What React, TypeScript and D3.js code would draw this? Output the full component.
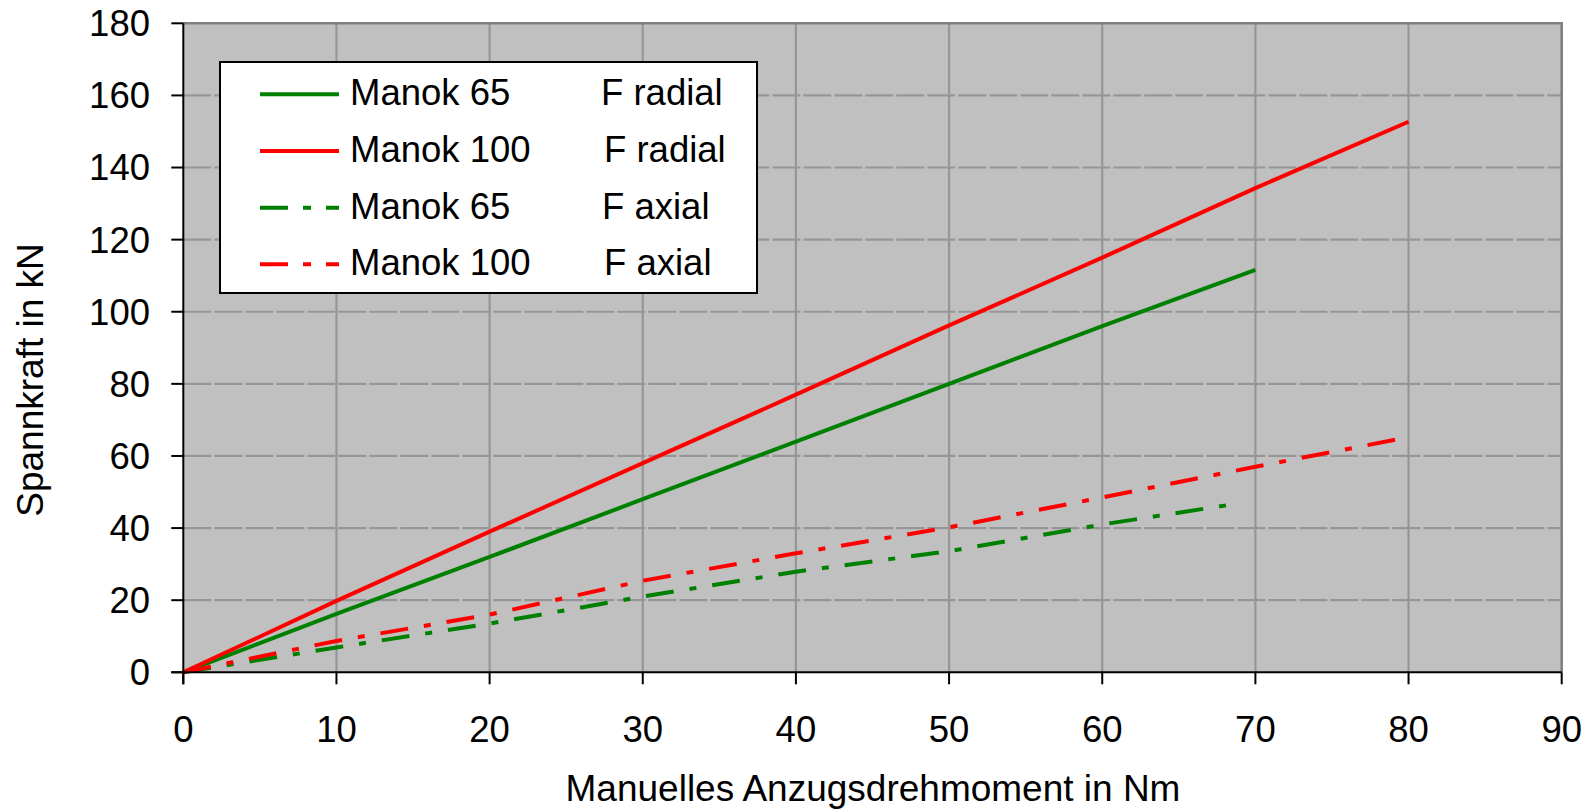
import React from "react";
import * as d3 from "d3";

const xTicks = [0, 10, 20, 30, 40, 50, 60, 70, 80, 90];
const yTicks = [0, 20, 40, 60, 80, 100, 120, 140, 160, 180];

const x65Radial = [0, 10, 20, 30, 40, 50, 60, 70];
const y65Radial = [0, 16.2, 32, 48, 64, 80, 96, 111.6];

const x100Radial = [0, 10, 20, 30, 40, 50, 60, 70, 80];
const y100Radial = [0, 19.8, 39, 58, 77, 96.2, 115, 134.3, 152.7];

const x65Axial = [0, 10, 20, 30, 40, 50, 60, 69];
const y65Axial = [0, 6.9, 13.5, 21, 27.9, 33.6, 41, 46.9];

const x100Axial = [0, 10, 20, 30, 40, 50, 60, 70, 80];
const y100Axial = [0, 8.7, 16, 25.4, 33, 40.2, 48.5, 57, 65.2];

const seriesNames = ["Manok 65", "Manok 100", "Manok 65", "Manok 100"];
const seriesForce = ["F radial", "F radial", "F axial", "F axial"];
const xTitle = "Manuelles Anzugsdrehmoment in Nm";
const yTitle = "Spannkraft in kN";

const GREEN = "#008000";
const RED = "#FF0000";
const DASHDOT = "28 16 7 16";
const FONT = "'Liberation Sans', Arial, sans-serif";

export default function App() {
  const W = 1593;
  const H = 810;
  const left = 183.3;
  const right = 1561.7;
  const top = 23.3;
  const bottom = 672.3;

  const x = d3.scaleLinear().domain([0, 90]).range([left, right]);
  const y = d3.scaleLinear().domain([0, 180]).range([bottom, top]);

  const line = d3
    .line<[number, number]>()
    .x((d) => x(d[0]))
    .y((d) => y(d[1]));

  const zip = (xs: number[], ys: number[]): [number, number][] =>
    xs.map((v, i) => [v, ys[i]] as [number, number]);

  const series = [
    { xs: x65Radial, ys: y65Radial, color: GREEN, dash: undefined as string | undefined },
    { xs: x100Radial, ys: y100Radial, color: RED, dash: undefined as string | undefined },
    { xs: x65Axial, ys: y65Axial, color: GREEN, dash: DASHDOT },
    { xs: x100Axial, ys: y100Axial, color: RED, dash: DASHDOT },
  ];

  const legendX = 220;
  const legendY = 62;
  const legendW = 537;
  const legendH = 231;
  const rowY = [94.3, 151, 207.7, 264.3];
  const forceX = [601, 604, 602, 604];

  return (
    <svg
      width={W}
      height={H}
      style={{ position: "absolute", left: 0, top: 0, background: "#fff" }}
      fontFamily={FONT}
    >
      <rect x={left} y={top} width={right - left} height={bottom - top} fill="#C0C0C0" />
      {/* horizontal gridlines */}
      {yTicks.slice(1, -1).map((t) => (
        <line
          key={"hg" + t}
          x1={left}
          x2={right}
          y1={y(t)}
          y2={y(t)}
          stroke="#969696"
          strokeWidth={2.2}
          strokeDasharray="28 3"
        />
      ))}
      {/* vertical gridlines */}
      {xTicks.slice(1, -1).map((t) => (
        <line
          key={"vg" + t}
          x1={x(t)}
          x2={x(t)}
          y1={top}
          y2={bottom}
          stroke="#969696"
          strokeWidth={2.2}
        />
      ))}
      {/* top & right border */}
      <polyline
        points={`${left},${top} ${right},${top} ${right},${bottom}`}
        fill="none"
        stroke="#808080"
        strokeWidth={2.6}
      />
      {/* series */}
      {series.map((s, i) => (
        <path
          key={"s" + i}
          d={line(zip(s.xs, s.ys)) || ""}
          fill="none"
          stroke={s.color}
          strokeWidth={4}
          strokeDasharray={s.dash}
        />
      ))}
      {/* axes */}
      <line x1={left} x2={left} y1={top} y2={bottom + 12} stroke="#000" strokeWidth={2} />
      <line x1={left - 12} x2={right} y1={bottom} y2={bottom} stroke="#000" strokeWidth={2} />
      {yTicks.map((t) => (
        <g key={"yt" + t}>
          <line x1={left - 12} x2={left} y1={y(t)} y2={y(t)} stroke="#000" strokeWidth={2} />
          <text
            x={150}
            y={y(t)}
            dy="0.355em"
            textAnchor="end"
            fontSize={36.5}
            fill="#000"
          >
            {t}
          </text>
        </g>
      ))}
      {xTicks.map((t) => (
        <g key={"xt" + t}>
          <line x1={x(t)} x2={x(t)} y1={bottom} y2={bottom + 12} stroke="#000" strokeWidth={2} />
          <text x={x(t)} y={741.5} textAnchor="middle" fontSize={36.5} fill="#000">
            {t}
          </text>
        </g>
      ))}
      <text x={873} y={801} textAnchor="middle" fontSize={37} fill="#000">
        {xTitle}
      </text>
      <text
        transform={`translate(43,380) rotate(-90)`}
        textAnchor="middle"
        fontSize={37}
        fill="#000"
      >
        {yTitle}
      </text>
      {/* legend */}
      <rect
        x={legendX}
        y={legendY}
        width={legendW}
        height={legendH}
        fill="#fff"
        stroke="#000"
        strokeWidth={2}
      />
      {series.map((s, i) => (
        <g key={"lg" + i}>
          <line
            x1={260}
            x2={339}
            y1={rowY[i]}
            y2={rowY[i]}
            stroke={s.color}
            strokeWidth={4}
            strokeDasharray={s.dash ? "28 15 8 15" : undefined}
          />
          <text x={350} y={rowY[i] + 11} fontSize={36.5} fill="#000">
            {seriesNames[i]}
          </text>
          <text x={forceX[i]} y={rowY[i] + 11} fontSize={36.5} fill="#000">
            {seriesForce[i]}
          </text>
        </g>
      ))}
    </svg>
  );
}
